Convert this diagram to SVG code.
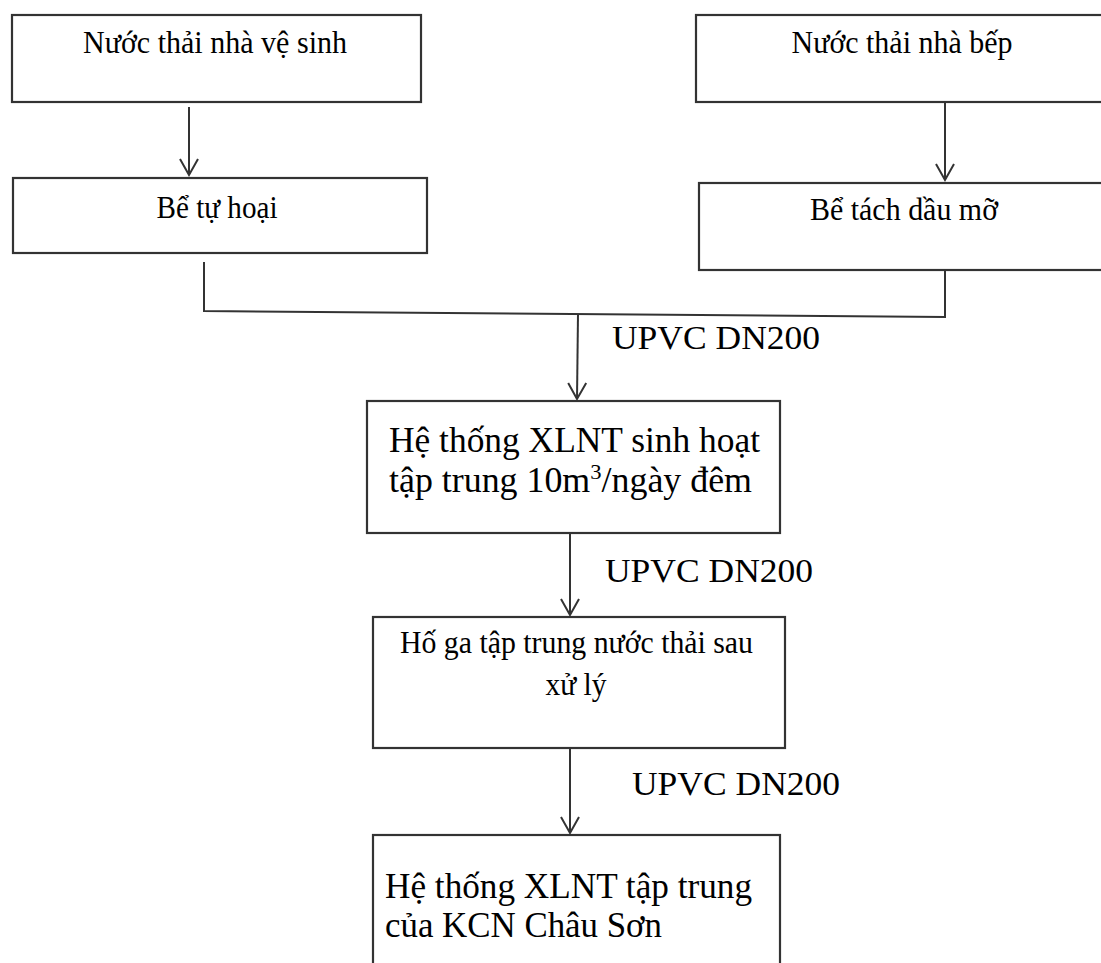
<svg xmlns="http://www.w3.org/2000/svg" width="1101" height="963" viewBox="0 0 1101 963">
<style>
.box{fill:#fff;stroke:#333;stroke-width:2.2}
.t{font-family:"Liberation Serif","Times New Roman",serif;fill:#000}
.s{font-size:32px}
.l{font-size:35px}
.lab{font-family:"Liberation Serif","Times New Roman",serif;font-size:33px;fill:#000}
.c{stroke:#333;stroke-width:2;fill:none}
</style>
<defs>
<marker id="arr" viewBox="0 0 20 22" markerWidth="20" markerHeight="22" refX="17" refY="11" orient="auto" markerUnits="userSpaceOnUse">
<path d="M1,2 L17,11 L1,20" fill="none" stroke="#333" stroke-width="2"/>
</marker>
</defs>
<rect width="1101" height="963" fill="#fff"/>
<g id="n1"><rect class="box" x="12" y="15" width="409" height="87"/><text class="t s" x="215" y="53" text-anchor="middle" textLength="264" lengthAdjust="spacingAndGlyphs">Nước thải nhà vệ sinh</text></g>
<g id="n2"><rect class="box" x="13" y="178" width="414" height="75"/><text class="t s" x="217" y="218" text-anchor="middle" textLength="121" lengthAdjust="spacingAndGlyphs">Bể tự hoại</text></g>
<g id="n3"><rect class="box" x="696" y="15" width="410" height="87"/><text class="t s" x="902" y="53" text-anchor="middle" textLength="221" lengthAdjust="spacingAndGlyphs">Nước thải nhà bếp</text></g>
<g id="n4"><rect class="box" x="699" y="183" width="410" height="87"/><text class="t s" x="904" y="220" text-anchor="middle" textLength="188" lengthAdjust="spacingAndGlyphs">Bể tách dầu mỡ</text></g>
<g id="n5"><rect class="box" x="367" y="401" width="413" height="132"/><text class="t l" x="389" y="452" textLength="371" lengthAdjust="spacingAndGlyphs">Hệ thống XLNT sinh hoạt</text><text class="t l" x="389" y="492" textLength="363" lengthAdjust="spacingAndGlyphs">tập trung 10m<tspan font-size="22" dy="-13">3</tspan><tspan dy="13">/ngày đêm</tspan></text></g>
<g id="n6"><rect class="box" x="373" y="617" width="412" height="131"/><text class="t s" x="576.5" y="653" text-anchor="middle" textLength="353" lengthAdjust="spacingAndGlyphs">Hố ga tập trung nước thải sau</text><text class="t s" x="576" y="695" text-anchor="middle" textLength="61" lengthAdjust="spacingAndGlyphs">xử lý</text></g>
<g id="n7"><rect class="box" x="373" y="835" width="407" height="140"/><text class="t l" x="385" y="898" textLength="367" lengthAdjust="spacingAndGlyphs">Hệ thống XLNT tập trung</text><text class="t l" x="385" y="937" textLength="277" lengthAdjust="spacingAndGlyphs">của KCN Châu Sơn</text></g>
<g id="connectors">
<line class="c" x1="189" y1="107" x2="189" y2="175" marker-end="url(#arr)"/>
<line class="c" x1="945" y1="102" x2="945" y2="180" marker-end="url(#arr)"/>
<polyline class="c" points="204,262 204,311 945,317 945,270"/>
<line class="c" x1="578" y1="314" x2="577" y2="399" marker-end="url(#arr)"/>
<line class="c" x1="570" y1="533" x2="570" y2="615" marker-end="url(#arr)"/>
<line class="c" x1="570" y1="748" x2="570" y2="833" marker-end="url(#arr)"/>
<text class="lab" x="612" y="349" textLength="208" lengthAdjust="spacingAndGlyphs">UPVC DN200</text>
<text class="lab" x="605" y="582" textLength="208" lengthAdjust="spacingAndGlyphs">UPVC DN200</text>
<text class="lab" x="632" y="795" textLength="208" lengthAdjust="spacingAndGlyphs">UPVC DN200</text>
</g>
</svg>
